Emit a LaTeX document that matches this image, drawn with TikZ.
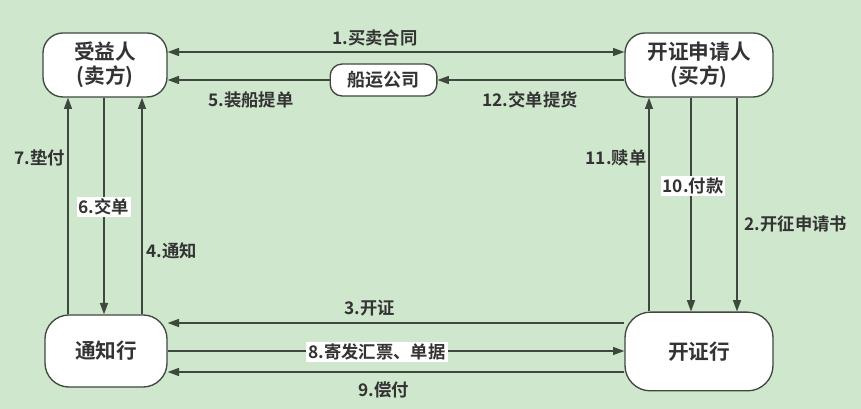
\documentclass[tikz,border=0pt]{standalone}
\usepackage{fontspec}
\setmainfont{Noto Sans CJK SC}[BoldFont={Noto Sans CJK SC Bold}]
\usetikzlibrary{arrows.meta}
\definecolor{bgcol}{RGB}{207,231,204}
\definecolor{ink}{RGB}{51,51,51}
\definecolor{edgecol}{RGB}{62,72,62}

\tikzset{
    party/.style={draw=edgecol, line width=1pt, fill=white, rounded corners=15pt,
                  font=\fontsize{15.5}{18}\selectfont\bfseries, text=ink,
                  align=center, inner sep=0pt},
    lbl/.style={font=\fontsize{13}{15}\selectfont\bfseries, text=ink, inner sep=1.5pt},
    tag/.style={lbl, fill=white},
    flow/.style={draw=edgecol, line width=1pt, -{Triangle[length=8.5pt,width=6pt]}},
}

\begin{document}
\begin{tikzpicture}[x=0.75pt, y=-0.75pt]
    % Background
    \fill[bgcol] (0,0) rectangle (861,409);

    % Parties
    \node[party, minimum width=93pt, minimum height=48pt] (seller) at (105,65) {受益人\\(卖方)};
    \node[party, minimum width=111pt, minimum height=48pt] (buyer) at (699,65) {开证申请人\\(买方)};
    \node[party, minimum width=80pt, minimum height=24pt, rounded corners=9pt,
          font=\fontsize{13.5}{16}\selectfont\bfseries] (ship) at (383.5,80) {船运公司};
    \node[party, minimum width=91.5pt, minimum height=54pt, rounded corners=18pt] (notify) at (106,351) {通知行};
    \node[party, minimum width=111pt, minimum height=59pt, rounded corners=19pt] (issue) at (699,351.5) {开证行};

    % Top flows
    \draw[flow, {Triangle[length=8.5pt,width=6pt]}-{Triangle[length=8.5pt,width=6pt]}]
        (seller.east |- 0,52) -- (buyer.west |- 0,52);
    \draw[flow] (ship.west) -- (seller.east |- ship.west);
    \draw[flow] (buyer.west |- ship.east) -- (ship.east);

    % Left flows
    \draw[flow] (notify.north -| 68,0) -- (seller.south -| 68,0);
    \draw[flow] (seller.south -| 104,0) -- (notify.north -| 104,0);
    \draw[flow] (notify.north -| 142,0) -- (seller.south -| 142,0);

    % Right flows
    \draw[flow] (issue.north -| 649,0) -- (buyer.south -| 649,0);
    \draw[flow] (buyer.south -| 691,0) -- (issue.north -| 691,0);
    \draw[flow] (buyer.south -| 737,0) -- (issue.north -| 737,0);

    % Bottom flows
    \draw[flow] (issue.west |- 0,323) -- (notify.east |- 0,323);
    \draw[flow] (notify.east) -- (issue.west |- notify.east);
    \draw[flow] (issue.west |- 0,372) -- (notify.east |- 0,372);

    % Labels
    \node[lbl] (l1) at (375,38) {1.买卖合同};
    \node[lbl] (l5) at (251,100) {5.装船提单};
    \node[lbl] (l12) at (530,100) {12.交单提货};
    \node[lbl] (l7) at (40,158) {7.垫付};
    \node[tag] (l6) at (104,207) {6.交单};
    \node[lbl] (l4) at (172,251) {4.通知};
    \node[lbl] (l11) at (616,158) {11.赎单};
    \node[tag] (l10) at (693,186) {10.付款};
    \node[lbl] (l2) at (796,224) {2.开征申请书};
    \node[lbl] (l3) at (370,308) {3.开证};
    \node[tag] (l8) at (377,352) {8.寄发汇票、单据};
    \node[lbl] (l9) at (384,390) {9.偿付};
\end{tikzpicture}
\end{document}
